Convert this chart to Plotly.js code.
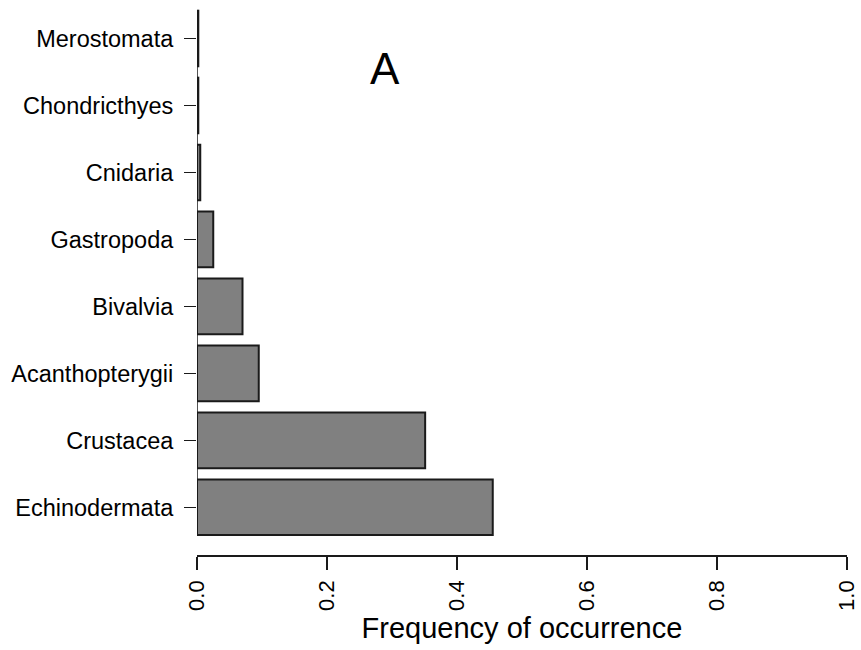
<!DOCTYPE html>
<html>
<head>
<meta charset="utf-8">
<script src="https://cdn.plot.ly/plotly-3.0.1.min.js"></script>
<style>
  html, body { margin: 0; padding: 0; background: #ffffff; }
  #chart { width: 861px; height: 650px; }
</style>
</head>
<body>
<div id="chart"></div>
<script>
// Prey groups, listed bottom to top
const groups = [
  'Echinodermata', 'Crustacea', 'Acanthopterygii', 'Bivalvia',
  'Gastropoda', 'Cnidaria', 'Chondricthyes', 'Merostomata'
];
// Frequency of occurrence for each group
const frequency = [0.455, 0.351, 0.095, 0.070, 0.025, 0.005, 0.002, 0.002];
// Horizontal axis ticks
const xTicks = [0, 0.2, 0.4, 0.6, 0.8, 1.0];
const xTickText = ['0.0', '0.2', '0.4', '0.6', '0.8', '1.0'];

const barWidth = 0.83;
const font = 'Liberation Sans, Arial, sans-serif';
const ink = '#1a1a1a';

const trace = {
  type: 'bar',
  orientation: 'h',
  y: groups,
  x: frequency,
  width: barWidth,
  marker: { color: '#808080', line: { color: ink, width: 2 } },
  hoverinfo: 'skip'
};

const layout = {
  width: 861,
  height: 650,
  margin: { l: 197, r: 14, t: 5, b: 95 },
  paper_bgcolor: '#ffffff',
  plot_bgcolor: '#ffffff',
  showlegend: false,
  font: { family: font, color: '#000000' },
  xaxis: {
    range: [0, 1],
    tickvals: xTicks,
    ticktext: xTickText,
    tickangle: -90,
    ticks: 'outside',
    ticklen: 13,
    tickwidth: 1.5,
    tickcolor: ink,
    tickfont: { family: font, size: 22, color: '#000000' },
    ticklabelstandoff: 2,
    showline: true,
    linecolor: ink,
    linewidth: 1.5,
    showgrid: false,
    zeroline: false,
    fixedrange: true,
    title: {
      text: 'Frequency of occurrence',
      font: { family: font, size: 29, color: '#000000' },
      standoff: 8
    }
  },
  yaxis: {
    type: 'category',
    categoryorder: 'array',
    categoryarray: groups,
    range: [-0.712, 7.5],
    ticks: 'outside',
    ticklen: 12,
    tickwidth: 1.5,
    tickcolor: ink,
    tickfont: { family: font, size: 23.5, color: '#000000' },
    ticklabelstandoff: 6,
    showline: false,
    showgrid: false,
    zeroline: false,
    fixedrange: true
  },
  shapes: [
    {
      // vertical axis line spanning the bars
      type: 'line',
      xref: 'x', yref: 'y',
      x0: 0, x1: 0,
      y0: -barWidth / 2, y1: groups.length - 1 + barWidth / 2,
      line: { color: ink, width: 1.5 },
      layer: 'above'
    }
  ],
  annotations: [
    {
      text: 'A',
      xref: 'paper', yref: 'paper',
      x: 0.2885, y: 0.885,
      xanchor: 'center', yanchor: 'middle',
      showarrow: false,
      font: { family: font, size: 44, color: '#000000' }
    }
  ]
};

Plotly.newPlot('chart', [trace], layout, { displayModeBar: false, staticPlot: true });
</script>
</body>
</html>
